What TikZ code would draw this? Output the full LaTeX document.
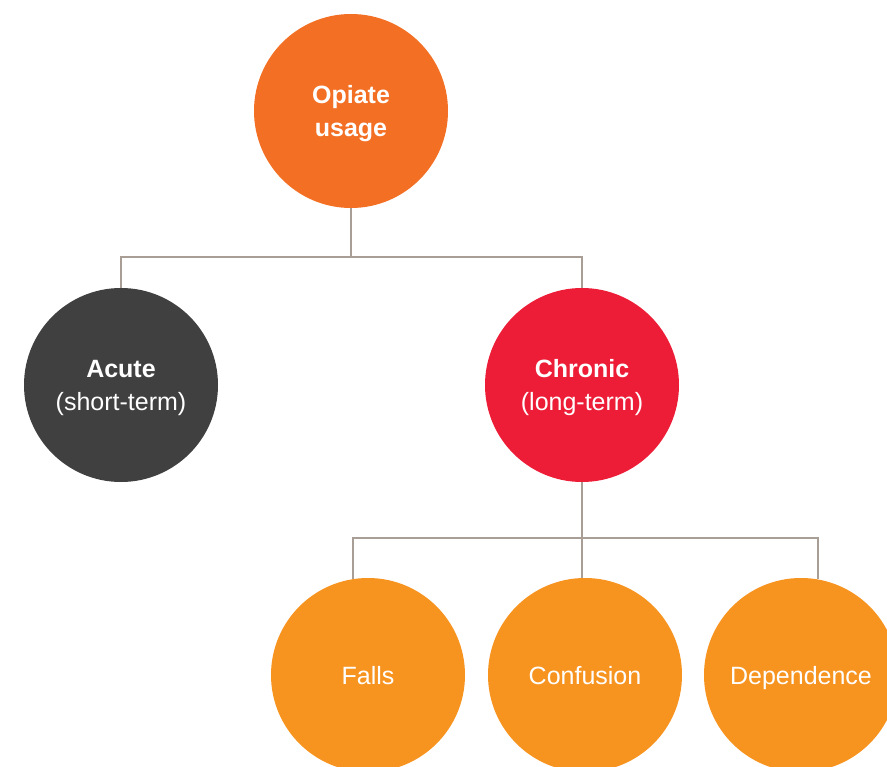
\documentclass[tikz,border=0pt]{standalone}
\usepackage{fontspec}
\setmainfont{Liberation Sans}

\definecolor{opiateorange}{HTML}{F36F24}
\definecolor{acutegrey}{HTML}{404040}
\definecolor{chronicred}{HTML}{ED1C37}
\definecolor{effectorange}{HTML}{F7931F}
\definecolor{branchgrey}{HTML}{A99E96}

\tikzset{
  bubble/.style={circle, minimum size=194pt, inner sep=0pt, text=white,
    align=center, text depth=-5pt, font=\fontsize{25}{33}\selectfont},
  branch/.style={draw=branchgrey, line width=1.5pt},
}

\begin{document}
\begin{tikzpicture}[x=1pt,y=-1pt]
\useasboundingbox (0,0) rectangle (887,767);
\node[bubble, fill=opiateorange, font=\fontsize{25}{33}\selectfont\bfseries] (opiate) at (351,111) {Opiate\\usage};
\node[bubble, fill=acutegrey] (acute) at (121,385) {\textbf{Acute}\\(short-term)};
\node[bubble, fill=chronicred] (chronic) at (582,385) {\textbf{Chronic}\\(long-term)};
\node[bubble, fill=effectorange] (falls) at (368,675) {Falls};
\node[bubble, fill=effectorange] (confusion) at (585,675) {Confusion};
\node[bubble, fill=effectorange] (dependence) at (801,675) {Dependence};

\coordinate (topbar) at (opiate.south |- 0,257);
\coordinate (lowbar) at (chronic.south |- 0,538);
\draw[branch] (opiate.south) -- (topbar) -| (acute.north);
\draw[branch] (topbar) -| (chronic.north);
\draw[branch] (chronic.south) -- (lowbar) -| (falls.99.5);
\draw[branch] (lowbar) -- (lowbar |- confusion.north);
\draw[branch] (lowbar) -| (dependence.80.5);
\end{tikzpicture}
\end{document}
